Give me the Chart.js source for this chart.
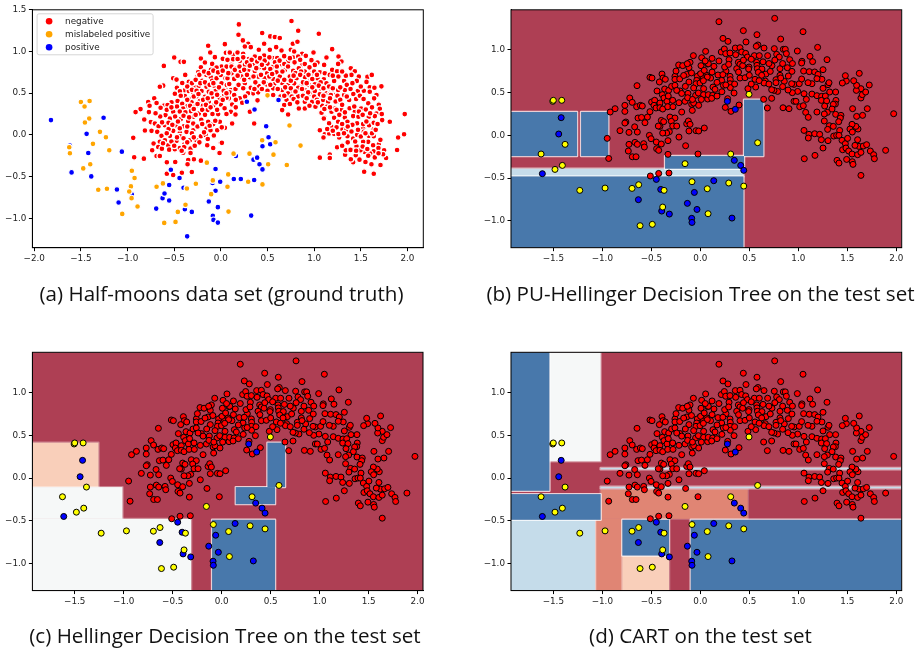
<!DOCTYPE html>
<html>
<head>
<meta charset="utf-8">
<title>Half-moons decision trees</title>
<script src="https://cdn.jsdelivr.net/npm/chart.js@4"></script>
<style>
  html, body { margin: 0; padding: 0; background: #fff; overflow: hidden; width: 919px; height: 649px; }
  canvas { position: absolute; }
</style>
</head>
<body>
<canvas id="panel-a"></canvas>
<canvas id="panel-b"></canvas>
<canvas id="panel-c"></canvas>
<canvas id="panel-d"></canvas>
<script>
/* training set, panel (a) */
const trainNeg = [
  [-.136,1.068],[.043,1.088],[-.114,.988],[-.5,.928],[-.432,.876],[-.396,.876],[-.214,.916],[-.064,.932],[.054,.984],[.093,.984],
  [.021,.912],[.132,.96],[-.611,.827],[-.171,.868],[-.214,.811],[-.093,.851],[.114,.839],[.007,.819],[.061,.819],[-.243,.751],
  [-.154,.719],[-.107,.779],[-.046,.807],[-.382,.719],[-.511,.679],[-.475,.663],[-.343,.635],[-.414,.622],[-.25,.699],[-.2,.647],
  [-.107,.691],[-.093,.647],[-.046,.679],[0,.719],[.05,.679],[.114,.739],[-.618,.59],[-.654,.578],[-.471,.566],[-.286,.578],
  [-.236,.586],[-.154,.578],[-.071,.59],[.007,.618],[.057,.566],[-.386,.534],[-.439,.522],[-.493,.494],[-.343,.526],[-.296,.498],
  [-.207,.526],[-.129,.518],[-.057,.526],[.036,.478],[.107,.538],[.143,.478],[-.714,.438],[-.779,.394],[-.689,.382],[-.386,.466],
  [-.332,.43],[-.261,.458],[-.171,.458],[-.093,.458],[-.011,.438],[.086,.438],[-.464,.406],[-.529,.39],[-.314,.39],[-.225,.406],
  [-.129,.398],[-.607,.353],[-.571,.357],[-.764,.349],[-.861,.309],[-.914,.273],[-.771,.273],[-.414,.373],[-.357,.345],[-.271,.345],
  [-.196,.349],[-.082,.349],[0,.365],[.121,.365],[-.511,.277],[-.593,.237],[-.646,.325],[-.404,.317],[-.321,.285],[-.236,.257],
  [-.143,.297],[-.029,.249],[.107,.277],[-.821,.185],[-.546,.197],[-.429,.189],[-.296,.217],[-.75,.153],[-.707,.137],[-.668,.104],
  [-.6,.116],[-.561,.145],[-.482,.116],[-.396,.104],[-.35,.165],[-.296,.137],[-.136,.157],[-.082,.129],[-.011,.157],[.121,.133],
  [-.814,.052],[-.743,.048],[-.682,.036],[-.636,-.012],[-.511,.048],[-.439,.028],[-.368,.036],[-.296,.056],[-.154,.076],[-.111,.056],
  [-.039,.056],[.043,.084],[-.214,-.016],[-.161,-.004],[-.075,-.008],[-.939,-.036],[-.721,-.104],[-.654,-.084],[-.6,-.064],[-.546,-.012],
  [-.475,-.072],[-.439,-.016],[-.393,-.116],[-.332,-.064],[-.261,-.064],[0,-.096],[-.564,-.124],[-.671,-.145],[-.736,-.185],[-.632,-.165],
  [-.554,-.177],[-.493,-.173],[-.439,-.157],[-.393,-.145],[-.325,-.165],[-.082,-.157],[-.404,-.213],[-.325,-.217],[-.014,-.217],[-.689,-.253],
  [-.654,-.253],[-.929,-.269],[-.825,-.285],[-.289,-.293],[-.214,-.309],[-.35,-.301],[-.579,-.329],[-.489,-.325],[-.357,-.353],[-.311,-.446],
  [-.418,-.454],[-.579,-.466],[-.511,-.482],[-.146,-.124],[.011,-.096],
  [.193,1.325],[.757,1.365],[.189,1.201],[.829,1.249],[.443,1.221],[1.05,1.213],[.529,1.181],[.579,1.173],[.632,1.161],[.236,1.133],
  [.293,1.093],[.464,1.093],[.771,1.093],[.821,1.116],[.257,1.06],[.321,1.052],[.593,1.052],[.525,1.02],[.65,1.012],[.407,1.02],
  [.75,1.02],[.786,1.0],[1.193,1.028],[.993,.988],[.871,.972],[.179,.988],[.096,.988],[.239,.972],[.364,.94],[.464,.952],
  [.3,.908],[.554,.92],[.604,.92],[.679,.944],[.775,.928],[.829,.94],[.911,.948],[.971,.896],[1.036,.867],[1.132,.928],
  [1.107,.839],[1.193,.779],[.132,.908],[.071,.9],[.204,.888],[.257,.839],[.346,.851],[.411,.811],[.5,.855],[.561,.819],
  [.65,.847],[.721,.88],[.875,.839],[1.007,.839],[.114,.819],[.168,.799],[.214,.759],[.293,.779],[.364,.767],[.464,.799],
  [.496,.739],[.596,.751],[.686,.779],[.775,.767],[.836,.799],[.9,.759],[1.061,.751],[1.114,.739],[1.168,.719],[.979,.739],
  [.071,.679],[.143,.671],[.221,.699],[.311,.691],[.4,.699],[.471,.679],[.561,.671],[.632,.699],[.739,.699],[.811,.679],
  [.9,.691],[.964,.659],[1.036,.679],[1.104,.667],[.064,.598],[.157,.55],[.257,.618],[.321,.566],[.407,.586],[.489,.606],
  [.571,.606],[.657,.622],[.721,.598],[.786,.618],[.864,.59],[.943,.598],[1.007,.606],[1.132,.618],[1.214,.647],[.093,.51],
  [.143,.478],[.346,.498],[.4,.51],[.561,.558],[.657,.538],[.739,.526],[.829,.566],[.9,.538],[.954,.498],[1.007,.526],
  [1.079,.55],[1.132,.498],[1.186,.518],[.061,.446],[.204,.438],[.561,.478],[.721,.498],[.829,.462],[.936,.51],[1.061,.486],
  [1.168,.49],[1.214,.478],[.121,.365],[.229,.386],[.393,.414],[.704,.418],[.679,.357],[.657,.297],[.721,.245],[.836,.317],
  [.9,.317],[.9,.398],[.979,.398],[1.014,.337],[1.096,.418],[1.086,.349],[1.15,.398],[1.136,.337],[1.071,.265],[1.186,.277],
  [1.114,.205],[.107,.277],[.157,.245],[.311,.277],[.357,.137],[.121,.137],
  [1.261,.94],[1.293,.88],[1.257,.851],[1.246,.763],[1.321,.647],[1.393,.799],[1.436,.763],[1.4,.719],[1.479,.699],[1.571,.695],
  [1.618,.719],[1.561,.635],[1.457,.647],[1.721,.582],[1.596,.57],[1.646,.566],[1.532,.53],[1.468,.526],[1.596,.518],[1.668,.478],
  [1.643,.438],[1.693,.361],[1.704,.313],[1.504,.317],[1.554,.305],[1.668,.257],[1.65,.225],[1.586,.217],[1.725,.249],[1.729,.177],
  [1.811,.157],[1.971,.249],[1.964,.008],[1.9,-.032],[1.889,-.181],[1.711,-.361],[1.771,-.277],[1.75,-.185],[1.693,-.112],[1.639,-.466],
  [1.536,-.442],[1.614,-.353],[1.55,-.325],[1.418,-.329],[1.393,-.293],[1.446,-.245],[1.486,-.297],[1.332,-.237],[1.339,-.185],[1.246,-.149],
  [1.061,-.273],[1.168,-.237],[1.168,-.277],[1.061,.056],[1.114,.008],[1.1,-.032],[1.161,.016],[1.214,.012],[1.268,-.032],[1.186,.096],
  [1.304,.068],[1.346,.064],[1.357,-.016],[1.418,-.044],[1.461,0],[1.525,.076],[1.589,.116],[1.639,.068],[1.532,.036],[1.586,-.012],
  [1.639,-.016],[1.579,-.084],[1.525,-.084],[1.454,-.137],[1.632,-.125],[1.639,-.197],[1.6,-.225],[1.543,-.205],[1.496,-.185],[1.689,-.157],
  [1.739,-.233],[1.214,.205],[1.257,.157],[1.329,.209],[1.357,.157],[1.436,.277],[1.418,.225],[1.293,.297],[1.375,.418],[1.321,.478],
  [1.246,.398],[1.179,.478],[1.257,.538],[1.329,.538],[1.186,.277],[1.079,.265],[1.104,.197],[1.221,.317],[1.475,.217],[1.525,.129],[1.639,.145],
  /* the dense middle of the moon */
  [-.31,.62],[-.27,.66],[-.23,.72],[-.18,.76],[-.13,.74],[-.08,.77],[-.03,.75],[.02,.77],[.08,.74],[.15,.78],
  [-.36,.58],[-.31,.54],[-.26,.53],[-.22,.62],[-.17,.63],[-.12,.6],[-.08,.62],[-.02,.57],[.03,.53],[.09,.61],
  [-.43,.47],[-.36,.42],[-.29,.46],[-.24,.49],[-.19,.42],[-.14,.44],[-.1,.5],[-.04,.48],[.02,.42],[.06,.5],
  [-.47,.34],[-.44,.28],[-.38,.27],[-.33,.35],[-.29,.31],[-.25,.37],[-.2,.3],[-.16,.36],[-.11,.33],[-.05,.39],
  [-.58,.3],[-.53,.33],[-.49,.22],[-.46,.16],[-.4,.23],[-.34,.21],[-.27,.24],[-.21,.18],[-.17,.24],[-.09,.25],
  [-.04,.3],[.04,.32],[.06,.25],[.16,.33],[-.65,.22],[-.7,.26],[-.63,.15],[-.56,.07],[-.52,.12],[-.44,.08],
  [-.36,.1],[-.31,.02],[-.25,.1],[-.2,.13],[-.18,.03],[-.12,.11],[-.06,.17],[.01,.09],[-.58,.02],[-.47,-.03],
  [-.4,-.04],[-.36,-.09],[-.29,-.03],[-.23,-.09],[-.14,-.05],[-.62,-.1],[-.53,-.08],[-.5,-.13],[-.42,-.19],[-.28,-.13],
  [.18,.91],[.24,.93],[.28,.87],[.33,.9],[.39,.88],[.42,.92],[.47,.89],[.52,.93],[.58,.87],[.63,.89],
  [.68,.85],[.74,.92],[.79,.87],[.85,.9],[.9,.85],[.95,.81],[.2,.82],[.25,.78],[.31,.83],[.38,.8],
  [.44,.84],[.53,.79],[.6,.82],[.66,.76],[.72,.82],[.8,.74],[.86,.76],[.94,.72],[1.0,.76],[.18,.71],
  [.25,.66],[.28,.72],[.35,.7],[.37,.63],[.43,.72],[.46,.63],[.52,.7],[.55,.73],[.61,.65],[.68,.66],
  [.75,.65],[.78,.71],[.85,.72],[.88,.63],[.98,.67],[1.03,.72],[1.07,.63],[.19,.6],[.24,.56],[.29,.5],
  [.36,.55],[.44,.55],[.5,.53],[.53,.6],[.61,.55],[.69,.57],[.75,.56],[.8,.52],[.87,.55],[.92,.62],
  [.98,.57],[1.05,.59],[1.1,.56],[1.16,.58],[1.2,.56],[.16,.42],[.26,.46],[.64,.46],[.68,.47],[.76,.46],
  [.88,.47],[.92,.44],[1,.46],[1.03,.42],[1.1,.47],[1.17,.44],[.74,.37],[.78,.43],[.82,.39],[.95,.35],
  [1.04,.39],[1.11,.31],[1.17,.33],[1.23,.4],[1.25,.47],[1.28,.42],[1.3,.36],[1.35,.46],[1.28,.57],[1.35,.6],
  [1.39,.55],[1.42,.49],[1.45,.43],[1.49,.47],[1.53,.43],[1.58,.38],[1.62,.33],[1.41,.62],[1.5,.58],[1.34,.71],
  [1.2,.71],[1.26,.7],[1.3,.76],[1.24,.3],[1.27,.24],[1.33,.27],[1.38,.32],[1.43,.34],[1.48,.28],[1.52,.24],
  [1.56,.16],[1.6,.26],[1.46,.14],[1.41,.12],[1.36,.1],[1.3,.13],[1.24,.09],[1.16,.14],[1.14,.07],[1.2,.05],
  [1.26,.01],[1.32,.02],[1.4,.04],[1.47,.06],[1.5,-.02],[1.55,.02],[1.62,.02],[1.66,.06],[1.68,.13],[1.44,-.08],
  [1.36,-.09],[1.3,-.13],[1.39,-.18],[1.45,-.19],[1.52,-.14],[1.57,-.17],[1.58,-.25],[1.65,-.27],[1.69,-.22],[1.71,-.06]
];
const trainMis = [
  [-1.5,.394],[-1.461,.341],[-1.407,.406],[-1.411,.197],[-1.457,.149],[-1.296,.036],[-1.232,-.028],[-1.371,-.108],[-1.196,-.185],[-1.625,-.149],
  [-1.618,-.221],[-1.475,-.402],[-1.4,-.353],[-1.314,-.659],[-1.221,-.647],[-.954,-.43],[-.925,-.518],[-.964,-.618],[-.982,-.679],[-.957,-.759],
  [-.893,-.859],[-1.057,-.948],[-.689,-.622],[-.621,-.582],[-.268,-.586],[-.364,-.643],[-.379,-.839],[-.461,-.924],[-.607,-1.056],[-.486,-1.044],
  [-.15,-.333],[-.086,-.546],[-.104,-.711],[.079,-.474],[.071,-.622],[.082,-.92],[.293,-.562],[.136,-.225],[.307,-.225],[.5,.474],
  [.736,.112],[.854,-.129],[.586,-.088],[.443,-.064],[.564,-.237],[.507,-.353],[.707,-.361],[.446,-.594]
];
const trainPos = [
  [-1.821,.177],[-1.257,.205],[-1.439,.012],[-1.618,-.129],[-1.421,-.217],[-1.061,-.201],[-1.6,-.45],[-1.389,-.498],[-1.114,-.655],[-1.096,-.811],
  [-.954,-.715],[-.693,-.884],[-.625,-.759],[-.604,-.703],[-.554,-.602],[-.554,-.787],[-.536,-.418],[-.443,-.518],[-.4,-.635],[-.386,-.892],
  [-.311,-.924],[-.361,-1.217],[-.057,-.41],[-.089,-.578],[-.007,-.562],[-.057,-.671],[-.129,-.799],[-.032,-.867],[-.086,-.972],[-.079,-1.02],
  [-.032,-1.052],[.139,-.53],[.214,-.53],[.161,-.253],[.279,.398],[.361,.305],[.618,.418],[.486,.104],[.511,-.028],[.446,-.137],
  [.529,-.112],[.35,-.297],[.389,-.273],[.414,-.353],[.446,-.414],[.357,-.542],[.325,-.968]
];

/* test set, panels (b) (c) (d) */
const testNeg = [
  [-.95,-.035],[-.935,-.27],[-.92,.273],[-.87,.312],[-.77,.351],[-.77,.28],[-.72,.437],[-.695,.386],[-.646,.581],[-.82,.055],
  [-.76,.156],[-.77,.144],[-.728,.035],[-.67,.1],[-.643,.039],[-.728,-.105],[-.735,-.183],[-.694,-.25],[-.656,-.25],[-.667,-.082],
  [-.643,-.105],[-.578,-.097],[-.571,-.136],[-.636,.203],[-.6,.21],[-.54,.214],[-.565,.148],[-.514,.277],[-.65,.335],[-.612,.351],
  [-.592,.343],[-.497,.39],[-.466,.41],[-.473,.351],[-.452,.32],[-.412,.378],[-.412,.324],[-.384,.308],[-.514,.678],[-.493,.67],
  [-.391,.717],[-.381,.67],[-.357,.655],[-.418,.624],[-.364,.542],[-.442,.519],[-.388,.476],[-.371,.437],[-.34,.398],[-.323,.526],
  [-.293,.573],[-.327,.46],[-.333,.335],[-.282,.41],[-.279,.335],[-.218,.382],[-.156,.398],[-.19,.273],[-.31,.214],[-.259,.203],
  [-.398,.175],[-.374,.16],[-.412,.105],[-.429,.109],[-.296,.164],[-.282,.109],[-.241,.109],[-.316,.043],[-.344,.027],[-.384,.027],
  [-.52,0],[-.503,-.039],[-.449,-.078],[-.398,-.101],[-.446,-.156],[-.425,-.175],[-.33,-.062],[-.218,-.02],[-.15,-.121],[-.33,-.222],
  [-.024,-.218],[-.139,.136],[-.122,.168],[-.105,.129],[-.116,.051],[-.044,.055],[-.017,.051],[.041,.086],[-.082,.292],[-.088,.363],
  [-.068,.378],[-.017,.351],[-.126,.491],[-.048,.468],[-.02,.495],[.034,.476],[.075,.425],[-.259,.69],[-.259,.655],[-.248,.752],
  [-.221,.823],[-.18,.815],[-.139,.713],[-.105,.854],[-.116,.791],[-.133,.838],[-.071,.932],[.014,.908],[.054,.982],[.007,.815],
  [.075,.834],[-.003,.713],[-.031,.69],[-.037,.643],[-.044,.604],[-.116,.624],[-.153,.573],[-.207,.519],[-.068,.554],[-.003,.612],
  [.031,.674],[.065,.702],[-.259,.585],[-.241,.526],[-.51,-.475],[-.425,-.445],[-.32,-.44],
  [.19,1.329],[.759,1.368],[1.048,1.212],[.439,1.224],[.578,1.177],[.231,1.134],[.282,1.099],[.82,1.126],[.466,1.092],[.588,1.057],
  [.571,1.041],[.214,.975],[.245,1.01],[.259,.955],[.303,.963],[.357,1.021],[.405,1.025],[.422,.975],[.463,.959],[.48,.916],
  [.361,.943],[.293,.885],[.551,.932],[.602,.932],[.65,1.021],[.687,.932],[.755,1.014],[.779,.947],[.806,.916],[.847,1.006],
  [.867,1.006],[.878,.955],[.912,.885],[.99,.986],[1.197,1.029],[1.119,.924],[1.146,.862],[1.293,.885],[1.037,.866],[1.034,.846],
  [.731,.815],[.813,.78],[.888,.791],[.935,.748],[.388,.854],[.405,.83],[.432,.815],[.497,.799],[.493,.776],[.575,.854],
  [.578,.819],[.582,.78],[.629,.776],[.592,.737],[.67,.717],[.714,.748],[.663,.635],[.565,.565],[.486,.546],[.303,.69],
  [.306,.651],[.303,.604],[.306,.558],[.344,.495],[.262,.752],[.248,.799],[.289,.83],[.139,.807],[.082,.838],[.18,.706],
  [.218,.643],[.105,.67],[.071,.682],[.003,.721],[.031,.639],[.129,.565],[.15,.538],[.034,.546],[.082,.476],[.126,.468],
  [.116,.433],[.279,.429],[.255,.327],[.313,.281],[.395,.355],[.646,.421],[.728,.433],[.684,.32],[.844,.323],[.905,.312],
  [1.014,.335],[1.051,.347],[.956,.398],[.976,.398],[1.082,.421],[1.058,.487],[.993,.514],[.939,.499],[.895,.53],[.857,.632],
  [.898,.694],[.813,.702],[.772,.651],[.82,.671],[.772,.616],[.789,.514],[.752,.526],[.956,.596],[1.01,.604],[1.034,.659],
  [1.054,.752],[1.112,.745],[1.167,.741],[1.201,.713],[1.252,.768],[1.241,.655],[1.19,.663],[1.139,.604],[1.099,.616],[1.303,.593],
  [1.313,.616],[1.252,.55],[1.381,.507],[1.32,.507],[1.139,.483],[1.19,.464],[1.238,.456],[1.276,.46],[1.235,.409],[1.289,.402],
  [1.384,.409],[1.378,.366],[1.269,.343],[1.357,.363],[1.344,.308],[1.296,.269],[1.265,.25],[1.19,.273],[1.075,.269],[1.102,.211],
  [1.381,.246],[1.435,.234],[1.429,.203],[1.412,.16],[1.265,.168],[1.316,.113],[1.299,.07],[1.357,.105],[1.422,.058],[1.058,.058],
  [1.109,.012],[1.102,-.031],[1.167,.019],[1.218,.012],[1.235,-.051],[1.303,-.062],[1.252,-.148],[1.361,-.008],[1.391,0],[1.415,0],
  [1.446,-.058],[1.48,-.097],[1.452,-.168],[1.486,-.148],[1.514,-.183],[1.548,-.218],[1.493,-.281],[1.551,-.308],[1.558,-.339],[1.395,-.292],
  [1.415,-.324],[1.17,-.234],[1.061,-.273],[1.639,-.468],[1.891,-.175],[1.973,.253],[1.605,-.226],[1.639,-.199],[1.619,-.129],[1.663,-.125],
  [1.697,-.109],[1.735,-.183],[1.769,-.226],[1.776,-.273],[1.578,-.117],[1.503,-.035],[1.605,-.051],[1.609,.074],[1.588,.105],[1.548,.129],
  [1.527,.074],[1.551,.039],[1.656,.234],[1.595,.222],[1.554,.312],[1.704,.312],[1.639,.437],[1.653,.476],[1.687,.507],[1.639,.546],
  [1.592,.526],[1.595,.585],[1.565,.639],[1.49,.635],[1.449,.612],[1.48,.698],[1.622,.725],[1.724,.589],[.371,.78],[.405,.67],
  [.456,.674],[.5,.702],[.558,.655],[.626,.702],[.235,.585],[.728,.534],[.65,.612],[.932,.604],
  [-.21,.66],[-.17,.7],[-.09,.73],[.04,.76],[.12,.74],[.17,.62],[.23,.71],[.19,.87],[.12,.9],[.05,.87],
  [-.19,.49],[-.13,.44],[-.08,.42],[.01,.42],[.17,.46],[.22,.51],[.26,.59],[.35,.6],[.39,.74],[.44,.88],
  [.52,.89],[.64,.86],[.7,.84],[.76,.88],[.84,.84],[.94,.84],[.52,.6],[.6,.64],[.7,.6],[.84,.57]
];
const testMis = [
  [-1.506,.398],[-1.5,.41],[-1.414,.41],[-1.38,-.105],[-1.625,-.218],[-1.408,-.351],[-1.483,-.398],[-1.23,-.643],[-.972,-.616],[-.697,-.62],
  [-.629,-.577],[-.37,-.643],[-.384,-.838],[-.615,-1.056],[-.49,-1.04],[-.156,-.331],[-.085,-.542],[.071,-.624],[.079,-.916],[.29,-.557],
  [.443,-.593],[.31,-.218],[.497,.48],[.585,-.086]
];
const testPos = [
  [-1.42,.207],[-1.445,.016],[-1.612,-.448],[-.449,-.515],[-.404,-.632],[-.632,-.752],[-.394,-.885],[-.316,-.92],[-.132,-.795],[-.061,-.667],
  [-.034,-.866],[-.088,-.97],[-.085,-1.018],[.137,-.53],[.323,-.967],[.347,-.292],[.412,-.351],[.443,-.409],[.276,.398],[.357,.304]
];

/* decision regions as [xFrom, xTo, yFrom, yTo] in data units */
const xLo = -1.932, xHi = 2.055, yLo = -1.313, yHi = 1.468;
const treeBBlue = [
  [xLo,-1.258,-.242,.273],[-1.217,-.939,-.242,.273],[xLo,.44,yLo,-.48],[-.36,.446,-.39,-.242],[.446,.643,-.242,.417]
];
const treeBLight = [[xLo,.44,-.48,-.39]];
const treeCBlue = [[-.098,.545,yLo,-.487],[.144,.545,-.304,-.105],[.467,.647,-.105,.413]];
const treeCPeach = [[xLo,-1.258,-.105,.413]];
const treeCWhite = [[xLo,-1.013,-.476,-.105],[xLo,-.312,yLo,-.476]];
const treeDBlue = [
  [xLo,-1.54,-.148,yHi],[xLo,-1.017,-.487,-.187],[-.796,-.319,-.904,-.487],[-.098,xHi,yLo,-.487]
];
const treeDWhite = [[-1.54,-1.017,.195,yHi]];
const treeDLight = [[xLo,-1.074,yLo,-.487],[-1.017,xHi,.102,.118],[-1.017,xHi,-.118,-.102]];
const treeDSalmon = [[-1.017,.484,-.476,-.133],[-1.074,-.796,yLo,-.476]];
const treeDPeach = [[-.796,-.319,yLo,-.904]];

const xTicksA = [-2, -1.5, -1, -.5, 0, .5, 1, 1.5, 2];
const yTicksA = [-1, -.5, 0, .5, 1, 1.5];
const xTicksTest = [-1.5, -1, -.5, 0, .5, 1, 1.5, 2];
const yTicksTest = [-1, -.5, 0, .5, 1];
const legendLabels = ['negative', 'mislabeled positive', 'positive'];

const RED_BG = '#ae3f54', BLUE = '#4878ab', LIGHT = '#c5dcea', WHITE = '#f6f8f8', SALMON = '#e08574', PEACH = '#f9cfba';
const TICK_FONT = { family: 'DejaVu Sans', size: 8.8 };
const TITLE_FONT = { family: 'Open Sans', size: 20.6, weight: 'normal', lineHeight: 1.2 };

function toPoints(list) {
  return list.map(p => ({ x: p[0], y: p[1] }));
}

function fmtTick(v) {
  return Number(v).toFixed(1).replace('-', '\u2212');
}

// filled areas behind the points, halo first so neighbours of one colour merge
const regionPlugin = {
  id: 'regions',
  beforeDatasetsDraw(chart, args, opts) {
    if (!opts.layers) return;
    const { ctx, chartArea: a, scales: { x, y } } = chart;
    ctx.save();
    ctx.beginPath();
    ctx.rect(a.left, a.top, a.right - a.left, a.bottom - a.top);
    ctx.clip();
    ctx.fillStyle = RED_BG;
    ctx.fillRect(a.left, a.top, a.right - a.left, a.bottom - a.top);
    opts.layers.forEach(layer => {
      const boxes = layer.rects.map(r => {
        const x0 = x.getPixelForValue(r[0]), x1 = x.getPixelForValue(r[1]);
        const y0 = y.getPixelForValue(r[3]), y1 = y.getPixelForValue(r[2]);
        return [x0, y0, x1 - x0, y1 - y0];
      });
      ctx.strokeStyle = 'rgba(255,255,255,' + layer.halo + ')';
      ctx.lineWidth = 2.4;
      ctx.lineJoin = 'round';
      boxes.forEach(b => ctx.strokeRect(b[0], b[1], b[2], b[3]));
      ctx.fillStyle = layer.color;
      boxes.forEach(b => ctx.fillRect(b[0], b[1], b[2], b[3]));
    });
    ctx.restore();
  }
};

const framePlugin = {
  id: 'frame',
  // title block spans the whole canvas, not only up to the right padding
  afterLayout(chart) {
    chart.titleBlock.left = 0;
    chart.titleBlock.right = chart.width;
  },
  afterDraw(chart) {
    const { ctx, chartArea: a } = chart;
    ctx.save();
    ctx.strokeStyle = '#000';
    ctx.lineWidth = 1;
    ctx.strokeRect(a.left, a.top, a.right - a.left, a.bottom - a.top);
    ctx.restore();
  }
};

const boxLegendPlugin = {
  id: 'boxLegend',
  afterDraw(chart, args, opts) {
    if (!opts.labels) return;
    const { ctx, chartArea: a } = chart;
    const left = a.left + 4.7, top = a.top + 4;
    ctx.save();
    ctx.strokeStyle = '#d5d5d5';
    ctx.fillStyle = 'rgba(255,255,255,0.9)';
    ctx.lineWidth = 1;
    ctx.beginPath();
    ctx.roundRect(left, top, 116, 41, 2);
    ctx.fill();
    ctx.stroke();
    ctx.font = '8.8px "DejaVu Sans"';
    ctx.textBaseline = 'middle';
    opts.labels.forEach((label, i) => {
      const rowY = top + 7.5 + i * 13;
      ctx.fillStyle = opts.colors[i];
      ctx.beginPath();
      ctx.arc(left + 12, rowY, 3.3, 0, Math.PI * 2);
      ctx.fill();
      ctx.fillStyle = '#222';
      ctx.fillText(label, left + 28, rowY);
    });
    ctx.restore();
  }
};

function buildAxis(min, max, ticks, fixed) {
  return {
    type: 'linear',
    min,
    max,
    afterBuildTicks: scale => { scale.ticks = ticks.map(value => ({ value })); },
    afterFit: scale => {
      if (scale.isHorizontal()) scale.height = fixed;
      else scale.width = fixed;
    },
    grid: { display: true, drawOnChartArea: false, drawTicks: true, tickLength: 3.5, tickColor: '#000' },
    border: { display: true, color: '#000', width: 1 },
    ticks: { font: TICK_FONT, color: '#222', padding: 2.5, maxRotation: 0, autoSkip: false, callback: fmtTick }
  };
}

function seriesSet(neg, mis, pos, misColor, edge, edgeWidth, radius) {
  const make = (label, data, color) => ({
    label,
    data: toPoints(data),
    backgroundColor: color,
    borderColor: edge,
    borderWidth: edgeWidth,
    pointRadius: radius,
    pointHoverRadius: radius
  });
  // first dataset ends up on top in Chart.js
  return [make('mislabeled positive', mis, misColor), make('positive', pos, '#0000ff'), make('negative', neg, '#ff0000')];
}

function renderPanel(id, box, cfg) {
  const canvas = document.getElementById(id);
  canvas.width = box.w;
  canvas.height = box.h;
  canvas.style.left = box.x + 'px';
  canvas.style.top = box.y + 'px';
  return new Chart(canvas, {
    type: 'scatter',
    data: { datasets: cfg.datasets },
    options: {
      responsive: false,
      animation: false,
      layout: { padding: { left: 0, right: box.padRight, top: box.padTop, bottom: 0 } },
      scales: {
        x: buildAxis(cfg.xRange[0], cfg.xRange[1], cfg.xTicks, 20),
        y: buildAxis(cfg.yRange[0], cfg.yRange[1], cfg.yTicks, box.axisW)
      },
      plugins: {
        legend: { display: false },
        tooltip: { enabled: false },
        title: {
          display: true,
          position: 'bottom',
          text: cfg.title,
          font: TITLE_FONT,
          color: '#111',
          padding: { top: box.titleTop, bottom: box.titleBottom }
        },
        regions: { layers: cfg.layers },
        boxLegend: { labels: cfg.legend, colors: ['#ff0000', '#ffa500', '#0000ff'] }
      }
    },
    plugins: [regionPlugin, framePlugin, boxLegendPlugin]
  });
}

const xRangeTest = [xLo, xHi], yRangeTest = [yLo, yHi];
const topRow = { y: 0, h: 320, padTop: 9.8, titleTop: 15, titleBottom: 12.6 };
const lowRow = { y: 320, h: 329, padTop: 32.3, titleTop: 13.7, titleBottom: 0 };

renderPanel('panel-a', { ...topRow, x: 0, w: 443, padRight: 19.7, axisW: 32.4 }, {
  datasets: seriesSet(trainNeg, trainMis, trainPos, '#ffa500', '#ffffff', 1.2, 2.9),
  xRange: [-2.02, 2.17], yRange: [-1.353, 1.5], xTicks: xTicksA, yTicks: yTicksA,
  title: '(a) Half-moons data set (ground truth)', legend: legendLabels
});
renderPanel('panel-b', { ...topRow, x: 480, w: 441, padRight: 19.3, axisW: 31 }, {
  datasets: seriesSet(testNeg, testMis, testPos, '#ffff00', '#000000', 1, 3),
  xRange: xRangeTest, yRange: yRangeTest, xTicks: xTicksTest, yTicks: yTicksTest,
  title: '(b) PU-Hellinger Decision Tree on the test set',
  layers: [{ rects: treeBLight, color: LIGHT, halo: 0.6 }, { rects: treeBBlue, color: BLUE, halo: 0.75 }]
});
renderPanel('panel-c', { ...lowRow, x: 0, w: 450, padRight: 27, axisW: 32.4 }, {
  datasets: seriesSet(testNeg, testMis, testPos, '#ffff00', '#000000', 1, 3),
  xRange: xRangeTest, yRange: yRangeTest, xTicks: xTicksTest, yTicks: yTicksTest,
  title: '(c) Hellinger Decision Tree on the test set',
  layers: [
    { rects: treeCPeach, color: PEACH, halo: 0.35 }, { rects: treeCWhite, color: WHITE, halo: 0.35 },
    { rects: treeCBlue, color: BLUE, halo: 0.75 }
  ]
});
renderPanel('panel-d', { ...lowRow, x: 480, w: 441, padRight: 19.3, axisW: 31 }, {
  datasets: seriesSet(testNeg, testMis, testPos, '#ffff00', '#000000', 1, 3),
  xRange: xRangeTest, yRange: yRangeTest, xTicks: xTicksTest, yTicks: yTicksTest,
  title: '(d) CART on the test set',
  layers: [
    { rects: treeDSalmon, color: SALMON, halo: 0.2 }, { rects: treeDPeach, color: PEACH, halo: 0.3 },
    { rects: treeDWhite, color: WHITE, halo: 0.35 }, { rects: treeDLight, color: LIGHT, halo: 0.55 },
    { rects: treeDBlue, color: BLUE, halo: 0.75 }
  ]
});
</script>
</body>
</html>
